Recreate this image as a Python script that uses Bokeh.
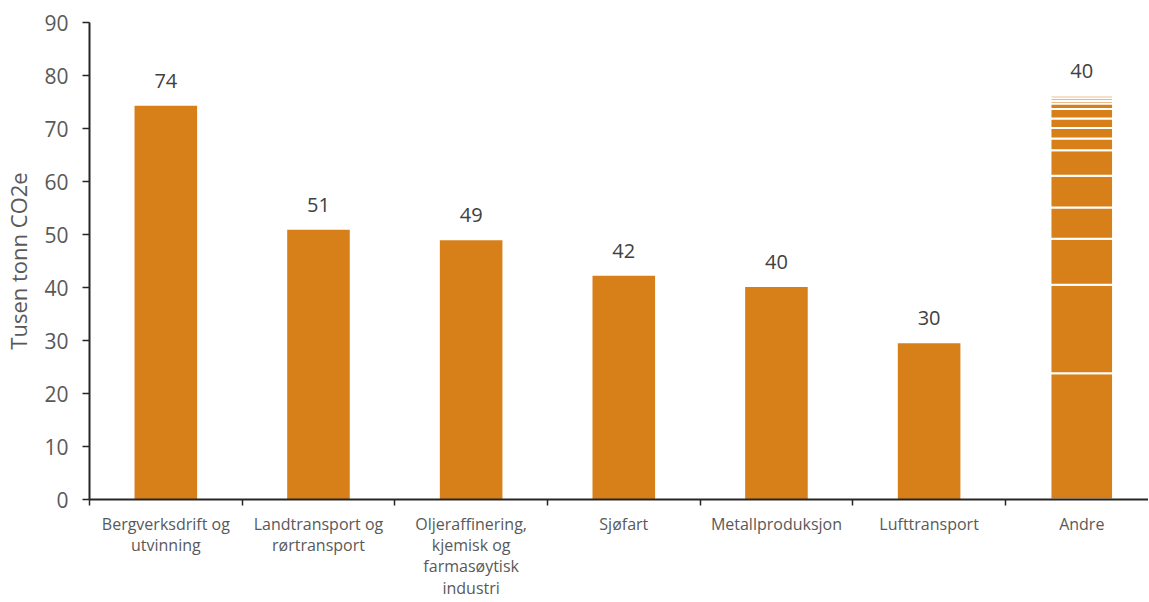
from bokeh.plotting import figure
from bokeh.models import Range1d, FixedTicker, ColumnDataSource
from bokeh.core.properties import value
from bokeh.embed import file_html
from bokeh.resources import INLINE

# ---- data ----
categories = ["Bergverksdrift og\nutvinning", "Landtransport og\nrørtransport",
              "Oljeraffinering,\nkjemisk og\nfarmasøytisk\nindustri", "Sjøfart",
              "Metallproduksjon", "Lufttransport", "Andre"]
values = [74.3, 50.9, 48.9, 42.2, 40.1, 29.5]
labels = ["74", "51", "49", "42", "40", "30", "40"]
andre_parts = [23.8, 16.7, 8.7, 5.9, 6.0, 4.8, 2.2, 2.0, 1.8, 1.8, 1.0, 0.5, 0.5, 0.5]
y_ticks = [0, 10, 20, 30, 40, 50, 60, 70, 80, 90]

ORANGE = "#D77F18"
GREY = "#595959"
FONT = "Open Sans"

n = len(categories)
xs = list(range(n))

p = figure(width=1148, height=601, output_backend="svg", toolbar_location=None,
           x_range=Range1d(-0.5, -0.5 + 1060 / 152.8), y_range=Range1d(0, 90),
           min_border_left=88, min_border_right=0, min_border_top=22, min_border_bottom=98)
p.outline_line_color = None
p.xgrid.grid_line_color = None
p.ygrid.grid_line_color = None
p.background_fill_color = "white"

# simple bars
src = ColumnDataSource(dict(x=xs[:len(values)], top=values))
p.vbar(x="x", top="top", width=0.41, source=src, fill_color=ORANGE, line_color=None)

# stacked "Andre" bar
bottoms, tops = [], []
acc = 0.0
for v in andre_parts:
    bottoms.append(acc)
    acc += v
    tops.append(acc)
src2 = ColumnDataSource(dict(x=[xs[-1]] * len(andre_parts), bottom=bottoms, top=tops))
p.vbar(x="x", bottom="bottom", top="top", width=0.41, source=src2,
       fill_color=ORANGE, line_color="white", line_width=2)

# data labels
label_y = values + [acc]
src3 = ColumnDataSource(dict(x=xs, y=label_y, t=labels))
p.text(x="x", y="y", text="t", source=src3, text_align="center", text_baseline="alphabetic",
       y_offset=-25, text_font=value(FONT), text_font_size="20px", text_color="#404040")

# x axis
xa = p.xaxis[0]
xa.ticker = FixedTicker(ticks=xs, minor_ticks=[i - 0.5 for i in range(n + 1)])
xa.major_label_overrides = {i: c for i, c in enumerate(categories)}
xa.major_tick_out = 0
xa.major_tick_in = 0
xa.minor_tick_out = 6
xa.minor_tick_in = 0
xa.minor_tick_line_color = "#262626"
xa.minor_tick_line_width = 1.5
xa.axis_line_color = "#262626"
xa.axis_line_width = 2
xa.major_label_text_font = FONT
xa.major_label_text_font_size = "16px"
xa.major_label_text_color = GREY
xa.major_label_text_line_height = 0.97
xa.major_label_standoff = 7

# y axis
ya = p.yaxis[0]
ya.ticker = FixedTicker(ticks=y_ticks)
ya.minor_tick_line_color = None
ya.major_tick_out = 7
ya.major_tick_in = 0
ya.major_tick_line_color = "#262626"
ya.major_tick_line_width = 1.5
ya.axis_line_color = "#262626"
ya.axis_line_width = 2
ya.major_label_text_font = FONT
ya.major_label_text_font_size = "21px"
ya.major_label_text_color = GREY
ya.major_label_standoff = 14
ya.axis_label = "Tusen tonn CO2e"
ya.axis_label_text_font = FONT
ya.axis_label_text_font_size = "22px"
ya.axis_label_text_font_style = "normal"
ya.axis_label_text_color = GREY
ya.axis_label_standoff = 8

open("out.html", "w").write(file_html(p, INLINE))
